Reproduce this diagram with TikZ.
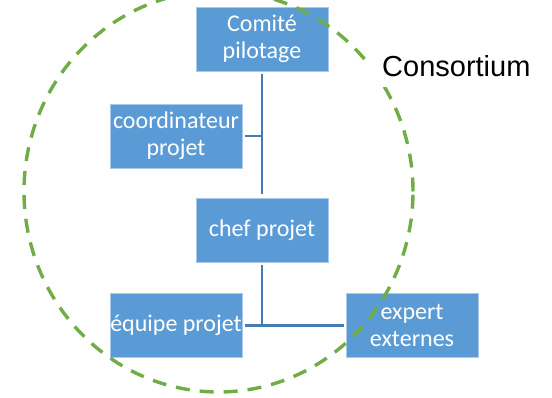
\documentclass[tikz,border=0pt]{standalone}
\usepackage{fontspec}
\setmainfont{Carlito}
\newfontfamily\labelfont{Liberation Sans}
\usepackage{tikz}
\usetikzlibrary{calc}
\definecolor{BoxColor}{RGB}{91,155,213}
\definecolor{BoxEdge}{RGB}{170,200,232}
\definecolor{LinkColor}{RGB}{70,124,180}
\definecolor{RingColor}{RGB}{112,173,71}
\tikzstyle{role} = [rectangle, fill=BoxColor, draw=BoxEdge, line width=0.8pt, text=white, minimum width=132pt, minimum height=64pt, inner sep=0pt, align=center, font=\fontsize{24}{27}\selectfont]
\tikzstyle{link} = [LinkColor, line width=2.4pt]
\tikzstyle{ring} = [RingColor, line width=3.4pt, dash pattern=on 14pt off 10pt]

\begin{document}
\begin{tikzpicture}[x=1pt, y=-1pt]
    \useasboundingbox (0,0) rectangle (552,398);

    % organisation boxes
    \node[role] (pil) at (262,39) {Comité\\pilotage};
    \node[role] (coord) at (176,136) {coordinateur\\projet};
    \node[role] (chef) at (262,230) {chef projet};
    \node[role] (equipe) at (176,325.5) {équipe projet};
    \node[role] (expert) at (412,325.5) {expert\\externes};

    % links
    \draw[link] ([yshift=-3pt]pil.south) -- ([yshift=4pt]chef.north);
    \draw[link] ([xshift=3pt]coord.east) -- (coord.east -| pil.south);
    \draw[link] ([yshift=-3pt]chef.south) -- (chef.south |- equipe.east);
    \draw[link] ([xshift=3pt]equipe.east) -- ([xshift=-2pt]expert.west);

    % consortium ring
    \draw[ring] (218.5,191.5) ellipse [x radius=194.5pt, y radius=200.5pt];
    \node[fill=white, anchor=base west, inner xsep=16pt, inner ysep=10pt, font=\labelfont\fontsize{29}{32}\selectfont] (cons) at (366,77) {Consortium};
\end{tikzpicture}
\end{document}
